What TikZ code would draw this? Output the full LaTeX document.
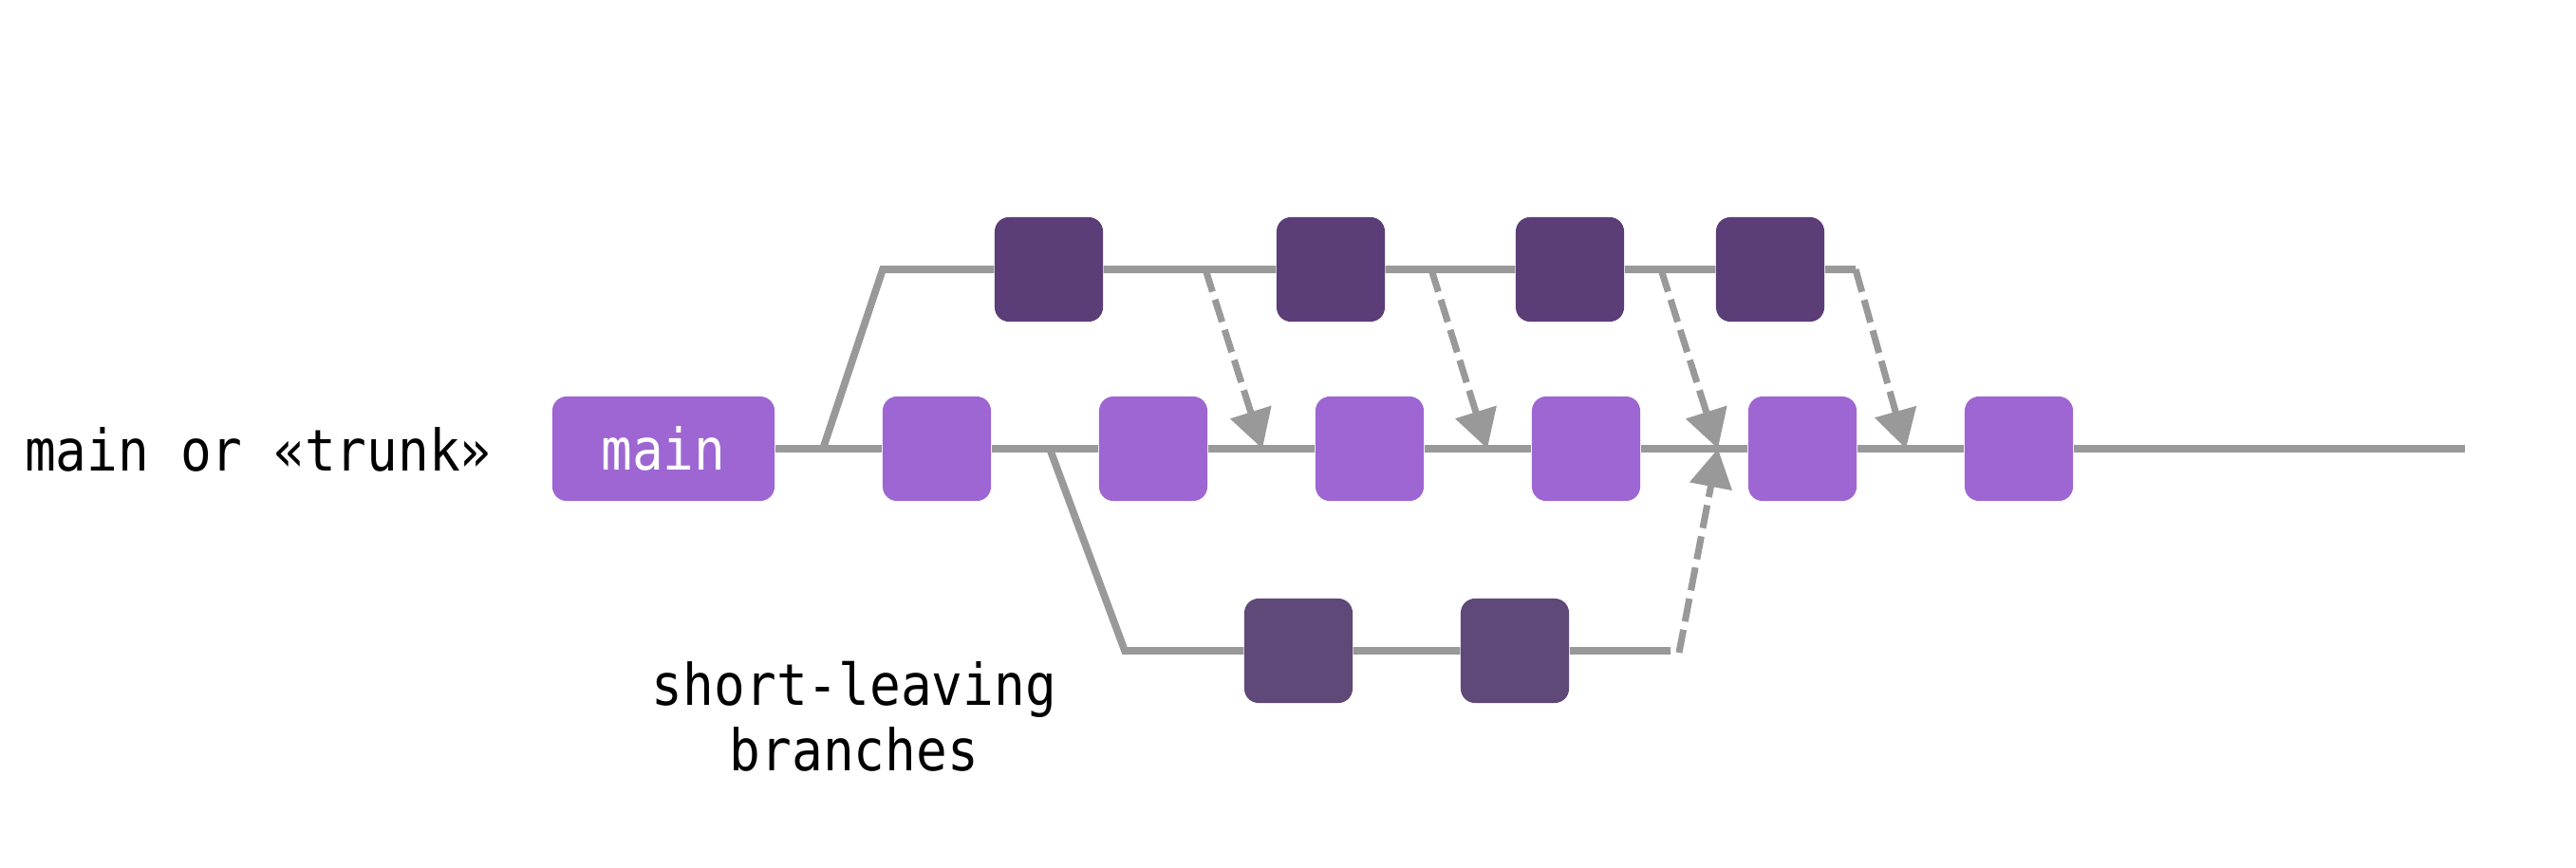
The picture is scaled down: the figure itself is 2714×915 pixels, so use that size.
\documentclass[tikz,border=0pt]{standalone}
\usepackage{fontspec}
\setmonofont[FakeStretch=0.9]{DejaVu Sans Mono}
\usetikzlibrary{arrows.meta,backgrounds}
\definecolor{trunkcol}{HTML}{9E66D2}
\definecolor{featcol}{HTML}{5B3D77}
\definecolor{shortcol}{HTML}{5F4978}
\definecolor{linecol}{HTML}{999999}
\begin{document}
\begin{tikzpicture}[x=0.01cm, y=-0.01cm,
  every node/.style={font=\ttfamily\fontsize{17.2}{19.6}\selectfont},
  commit/.style={shape=rectangle, rounded corners=0.15cm, inner sep=0pt, minimum width=1.14cm, minimum height=1.1cm},
  trunkcommit/.style={commit, fill=trunkcol},
  featcommit/.style={commit, fill=featcol},
  shortcommit/.style={commit, fill=shortcol},
  branchline/.style={draw=linecol, line width=2.2pt},
  mergeline/.style={draw=linecol, line width=2pt, dash pattern=on 7pt off 2.5pt, -{Triangle[length=11.5pt, width=12.5pt]}}]
  \useasboundingbox (0,0) rectangle (2714,915);
  \node[anchor=base] (trunklabel) at (272,496) {main or «trunk»};
  \node[anchor=base, align=center] (shortlabel) at (900,812) {short-leaving\\branches};
  \node[trunkcommit, minimum width=2.34cm, text=white] (m0) at (699,473) {main};
  \foreach \i in {1,...,6}
    \node[trunkcommit] (m\i) at ({759+228*\i},473) {};
  \foreach \i/\x in {1/1105,2/1402,3/1654,4/1865}
    \node[featcommit] (f\i) at (\x,284) {};
  \node[shortcommit] (s1) at (1368,686) {};
  \node[shortcommit] (s2) at (1596,686) {};
  \coordinate (trunkend) at (2597,473);
  \coordinate (fork1) at (867,473);
  \coordinate (featstart) at (930,284);
  \coordinate (featend) at (1955,284);
  \coordinate (fork2) at (1106,473);
  \coordinate (shortstart) at (1185,686);
  \coordinate (shortend) at (1760,686);
  \coordinate (shortmerge) at (1769,688);
  \foreach \i/\x/\y in {1/1270/1330,2/1508/1567,3/1750/1810}{
    \coordinate (from\i) at (\x,284);
    \coordinate (to\i) at (\y,473);
  }
  \coordinate (to4) at (2008,473);
  \begin{scope}[on background layer]
    \draw[branchline] (m0) -- (m1) -- (m2) -- (m3) -- (m4) -- (m5) -- (m6) -- (trunkend);
    \draw[branchline] (fork1) -- (featstart) -- (f1) -- (f2) -- (f3) -- (f4) -- (featend);
    \draw[branchline] (fork2) -- (shortstart) -- (s1) -- (s2) -- (shortend);
  \end{scope}
  \foreach \i in {1,2,3}
    \draw[mergeline] (from\i) -- (to\i);
  \draw[mergeline] (featend) -- (to4);
  \draw[mergeline] (shortmerge) -- (to3);
\end{tikzpicture}
\end{document}
